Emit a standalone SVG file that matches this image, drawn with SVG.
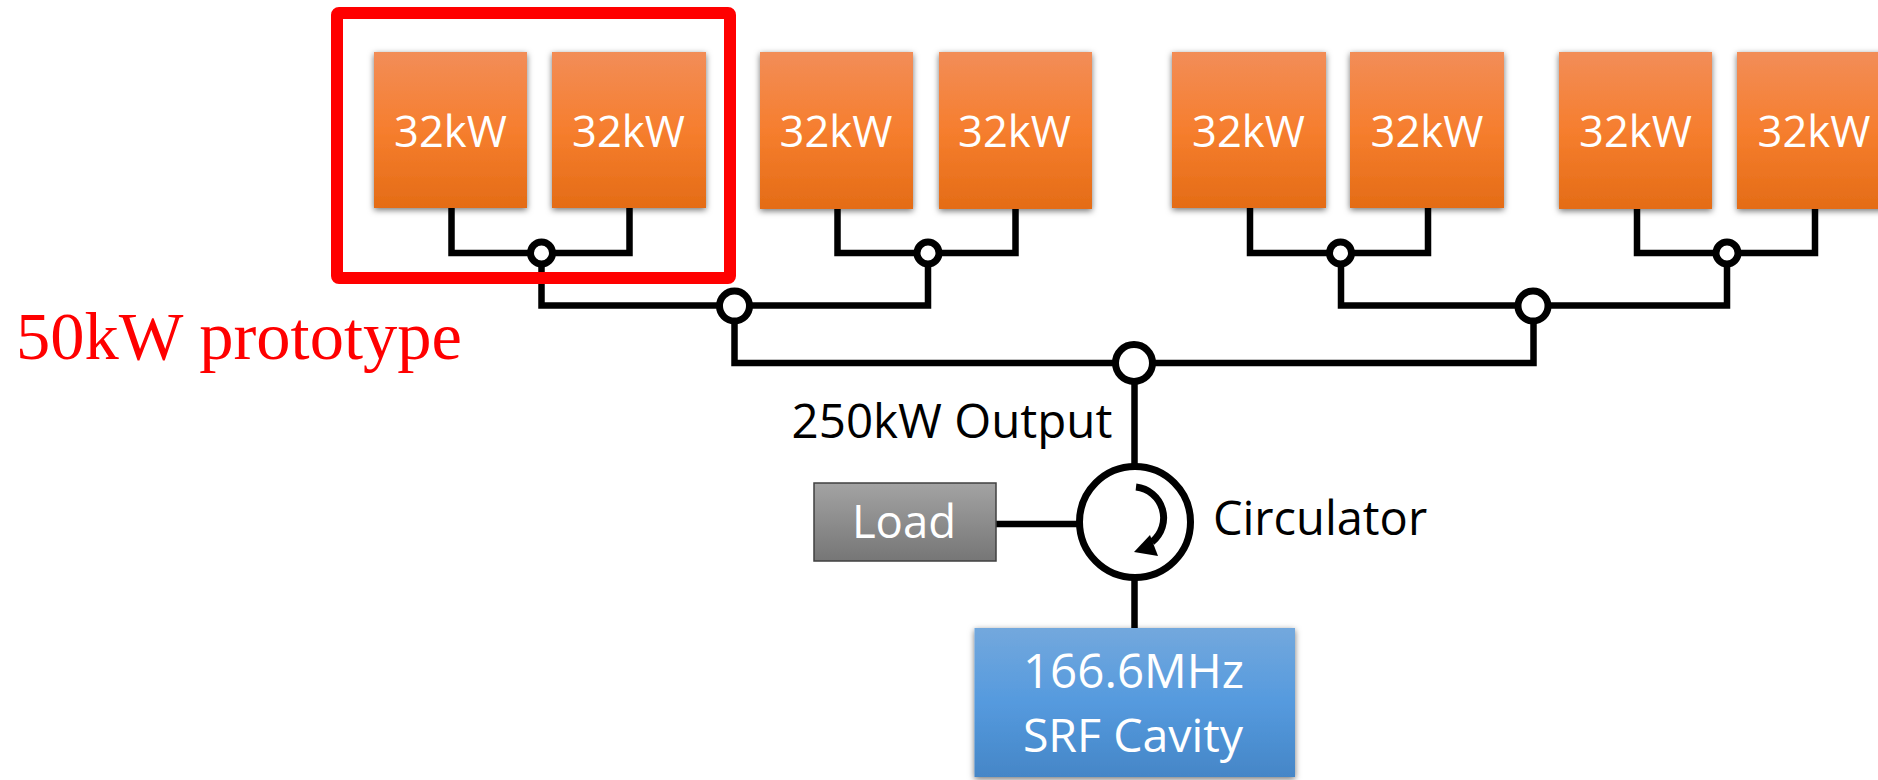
<svg xmlns="http://www.w3.org/2000/svg" width="1878" height="780" viewBox="0 0 1878 780">
<style>
.w{fill:none;stroke:#000;stroke-width:6.500;stroke-linejoin:miter}
.j{fill:#fff;stroke:#000;stroke-width:7}
.t{font-family:"Open Sans","Noto Sans",sans-serif;text-anchor:middle}
.kw{font-size:43.500px;fill:#fff}
</style>
<defs>
<linearGradient id="o" x1="0" y1="0" x2="0" y2="1"><stop offset="0" stop-color="#f28d58"/><stop offset=".5" stop-color="#f67e2e"/><stop offset="1" stop-color="#e46c16"/></linearGradient>
<linearGradient id="bl" x1="0" y1="0" x2="0" y2="1"><stop offset="0" stop-color="#73a8dd"/><stop offset=".5" stop-color="#559ade"/><stop offset="1" stop-color="#4586c7"/></linearGradient>
<linearGradient id="g" x1="0" y1="0" x2="0" y2="1"><stop offset="0" stop-color="#a3a3a3"/><stop offset="1" stop-color="#767676"/></linearGradient>
<filter id="s" x="-10%" y="-10%" width="120%" height="120%"><feDropShadow dx="0" dy="2" stdDeviation="3" flood-color="#000" flood-opacity=".55"/></filter>
</defs>
<rect width="1878" height="780" fill="#fff"/>
<g id="connectors">
<path class="w" d="M451.500 208V253H629.500V208"/>
<path class="w" d="M837.500 208V253H1015.500V208"/>
<path class="w" d="M1250 208V253H1428V208"/>
<path class="w" d="M1637 208V253H1815V208"/>
<path class="w" d="M541.500 253V305.500H928V253"/>
<path class="w" d="M1341 253V305.500H1727V253"/>
<path class="w" d="M734.500 306V363H1533.500V306"/>
<path class="w" d="M1134.500 363V470M1134.500 575V628M996 524H1080"/>
</g>
<g id="box1"><rect x="374" y="52" width="153" height="156" fill="url(#o)" filter="url(#s)"/><text class="t kw" x="450.500" y="147">32kW</text></g>
<g id="box2"><rect x="552" y="52" width="154" height="156" fill="url(#o)" filter="url(#s)"/><text class="t kw" x="628.500" y="147">32kW</text></g>
<g id="box3"><rect x="760" y="52" width="153" height="157" fill="url(#o)" filter="url(#s)"/><text class="t kw" x="836" y="147">32kW</text></g>
<g id="box4"><rect x="939" y="52" width="153" height="157" fill="url(#o)" filter="url(#s)"/><text class="t kw" x="1014.500" y="147">32kW</text></g>
<g id="box5"><rect x="1172" y="52" width="154" height="156" fill="url(#o)" filter="url(#s)"/><text class="t kw" x="1248.500" y="147">32kW</text></g>
<g id="box6"><rect x="1350" y="52" width="154" height="156" fill="url(#o)" filter="url(#s)"/><text class="t kw" x="1427" y="147">32kW</text></g>
<g id="box7"><rect x="1559" y="52" width="153" height="157" fill="url(#o)" filter="url(#s)"/><text class="t kw" x="1635.500" y="147">32kW</text></g>
<g id="box8"><rect x="1737" y="52" width="154" height="157" fill="url(#o)" filter="url(#s)"/><text class="t kw" x="1814" y="147">32kW</text></g>
<g id="junctions">
<circle class="j" cx="541.500" cy="253" r="11"/>
<circle class="j" cx="928" cy="253" r="11"/>
<circle class="j" cx="1340.500" cy="253" r="11"/>
<circle class="j" cx="1727" cy="253" r="11"/>
<circle class="j" cx="734.500" cy="306" r="15"/>
<circle class="j" cx="1533" cy="306" r="15"/>
<circle class="j" cx="1134" cy="363" r="18.500"/>
</g>
<g id="prototype-frame"><rect x="337" y="13" width="393" height="265" rx="2" fill="none" stroke="#f00" stroke-width="12"/></g>
<text id="prototype-label" x="16" y="359" font-family="Liberation Serif,serif" font-size="68.500" fill="#f00">50kW prototype</text>
<text id="output-label" class="t" x="952" y="438" font-size="47.500">250kW Output</text>
<g id="circulator">
<circle cx="1135" cy="522" r="55.500" fill="#fff" stroke="#000" stroke-width="7"/>
<path d="M1136 487A31 31 0 0 1 1152 542" fill="none" stroke="#000" stroke-width="7"/>
<path d="M1134 552L1150 535L1158 556Z" fill="#000"/>
</g>
<text id="circulator-label" class="t" x="1320" y="535" font-size="47">Circulator</text>
<g id="load"><rect x="814" y="483" width="182" height="78" fill="url(#g)" stroke="#404040" stroke-width="1.500"/><text class="t" x="904" y="538" font-size="45.500" fill="#fff">Load</text></g>
<g id="cavity"><rect x="974.500" y="628" width="320.500" height="149" fill="url(#bl)" filter="url(#s)"/><text class="t" x="1133.500" y="688" font-size="47.500" fill="#fff">166.6MHz</text><text class="t" x="1133" y="752" font-size="46.500" fill="#fff">SRF Cavity</text></g>
</svg>
